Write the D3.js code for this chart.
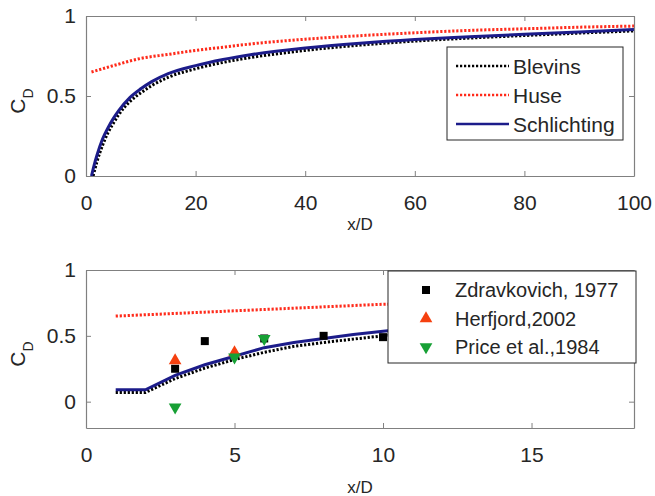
<!DOCTYPE html>
<html>
<head>
<meta charset="utf-8">
<script src="https://cdn.jsdelivr.net/npm/d3@7"></script>
<style>
  body { margin: 0; background: #fff; }
  text { font-family: "Liberation Sans", Arial, sans-serif; fill: #262626; }
</style>
</head>
<body>
<div id="chart"></div>
<script>
"use strict";

/*** Data */
/* Top panel, x/D from 0 to 100 */
const blevinsTopX = [1.3, 2, 3, 4, 5, 6, 8, 10, 12, 15, 20, 25, 30, 40, 50, 60, 70, 80, 90, 100];
const blevinsTopY = [0, 0.09, 0.19, 0.27, 0.33, 0.385, 0.465, 0.52, 0.565, 0.617, 0.67, 0.71, 0.74, 0.785, 0.818, 0.843, 0.862, 0.878, 0.893, 0.907];

const huseTopX = [1, 2, 5, 10, 15, 20, 25, 30, 40, 50, 60, 70, 80, 90, 100];
const huseTopY = [0.65, 0.66, 0.69, 0.735, 0.76, 0.785, 0.805, 0.825, 0.855, 0.877, 0.895, 0.91, 0.92, 0.93, 0.937];

const schlTopX = [1, 1.5, 2, 3, 4, 5, 6, 8, 10, 12, 15, 20, 25, 30, 40, 50, 60, 70, 80, 90, 100];
const schlTopY = [0, 0.07, 0.13, 0.23, 0.30, 0.36, 0.41, 0.49, 0.545, 0.59, 0.64, 0.69, 0.728, 0.758, 0.80, 0.83, 0.853, 0.87, 0.886, 0.90, 0.915];

/* Bottom panel, close-up of x/D < 18 */
const blevinsBotX = [1, 2, 3, 4, 5, 6, 7, 8, 9, 10, 12];
const blevinsBotY = [0.07, 0.07, 0.175, 0.255, 0.32, 0.375, 0.42, 0.45, 0.475, 0.50, 0.55];

const huseBotX = [1, 2, 4, 6, 8, 10, 12];
const huseBotY = [0.65, 0.66, 0.68, 0.70, 0.72, 0.74, 0.75];

const schlBotX = [1, 2, 3, 4, 5, 6, 7, 8, 9, 10, 12];
const schlBotY = [0.09, 0.09, 0.20, 0.28, 0.345, 0.41, 0.45, 0.48, 0.51, 0.535, 0.58];

/* Experiments */
const zdravX = [3, 4, 6, 8, 10];
const zdravY = [0.25, 0.46, 0.48, 0.50, 0.49];
const herfX = [3, 5];
const herfY = [0.32, 0.38];
const priceX = [3, 5, 6];
const priceY = [-0.05, 0.33, 0.47];

/* Ticks */
const topXTicks = [0, 20, 40, 60, 80, 100];
const botXTicks = [0, 5, 10, 15];
const yTicks = [0, 0.5, 1];

const lineNames = ["Blevins", "Huse", "Schlichting"];
const markNames = ["Zdravkovich, 1977", "Herfjord,2002", "Price et al.,1984"];

/*** Styles */
const blevinsStyle = { color: "#000000", dash: "2.2,1.8", width: 3 };
const huseStyle = { color: "#ff2a1a", dash: "2.2,1.8", width: 3 };
const schlStyle = { color: "#1c1c8a", dash: null, width: 3 };
const lineStyles = [blevinsStyle, huseStyle, schlStyle];
const axisGray = "#808080";

const w = 655;
const h = 496;

const svg = d3.select("#chart")
    .append("svg")
    .attr("width", w)
    .attr("height", h);

const zip = (xs, ys) => xs.map((x, i) => [x, ys[i]]);

/*** Panel builder */
const drawPanel = (cfg) => {
    const x = d3.scaleLinear().domain(cfg.xDomain).range([86, 634]);
    const y = d3.scaleLinear().domain(cfg.yDomain).range([cfg.bottom, cfg.top]);

    const g = svg.append("g");

    const clipId = "clip" + cfg.top;
    g.append("clipPath").attr("id", clipId)
        .append("rect")
        .attr("x", 86).attr("y", cfg.top)
        .attr("width", 548).attr("height", cfg.bottom - cfg.top);

    const line = d3.line().x(d => x(d[0])).y(d => y(d[1])).curve(cfg.curve);

    const plot = g.append("g").attr("clip-path", "url(#" + clipId + ")");
    cfg.lines.forEach((l, i) => {
        plot.append("path")
            .datum(zip(l[0], l[1]))
            .attr("d", line)
            .attr("fill", "none")
            .attr("stroke", lineStyles[i].color)
            .attr("stroke-width", lineStyles[i].width)
            .attr("stroke-dasharray", lineStyles[i].dash);
    });

    // markers
    if (cfg.markers) {
        plot.append("g").selectAll("rect").data(zip(zdravX, zdravY)).enter().append("rect")
            .attr("x", d => x(d[0]) - 4).attr("y", d => y(d[1]) - 4)
            .attr("width", 8).attr("height", 8).attr("fill", "#000");
        plot.append("g").selectAll("path").data(zip(herfX, herfY)).enter().append("path")
            .attr("d", d3.symbol().type(d3.symbolTriangle).size(70))
            .attr("transform", d => "translate(" + x(d[0]) + "," + (y(d[1]) + 1) + ")")
            .attr("fill", "#f5400f");
        plot.append("g").selectAll("path").data(zip(priceX, priceY)).enter().append("path")
            .attr("d", d3.symbol().type(d3.symbolTriangle).size(70))
            .attr("transform", d => "translate(" + x(d[0]) + "," + (y(d[1]) - 1) + ") rotate(180)")
            .attr("fill", "#17a035");
    }

    // axes: inward ticks on all four sides
    const styleAxis = (sel) => {
        sel.select(".domain").attr("stroke", axisGray);
        sel.selectAll(".tick line").attr("stroke", axisGray);
        sel.selectAll("text").style("font-size", "21px").attr("fill", "#262626");
    };
    g.append("g").attr("transform", "translate(0," + cfg.bottom + ")")
        .call(d3.axisBottom(x).tickValues(cfg.xTicks).tickSizeInner(-5).tickSizeOuter(0).tickPadding(19))
        .call(styleAxis);
    g.append("g").attr("transform", "translate(0," + cfg.top + ")")
        .call(d3.axisTop(x).tickValues(cfg.xTicks).tickSizeInner(-5).tickSizeOuter(0).tickFormat(""))
        .call(styleAxis);
    g.append("g").attr("transform", "translate(86,0)")
        .call(d3.axisLeft(y).tickValues(yTicks).tickSizeInner(-5).tickSizeOuter(0).tickPadding(10).tickFormat(d3.format("")))
        .call(styleAxis);
    g.append("g").attr("transform", "translate(634,0)")
        .call(d3.axisRight(y).tickValues(yTicks).tickSizeInner(-5).tickSizeOuter(0).tickFormat(""))
        .call(styleAxis);
    g.selectAll(".domain").attr("stroke-width", 1.2);

    // labels
    g.append("text")
        .attr("x", 360).attr("y", cfg.xLabelY)
        .attr("text-anchor", "middle")
        .style("font-size", "17px")
        .text("x/D");
    const yl = g.append("text")
        .attr("transform", "translate(25," + ((cfg.top + cfg.bottom) / 2 + 5) + ") rotate(-90)")
        .attr("text-anchor", "middle")
        .style("font-size", "21px");
    yl.append("tspan").text("C");
    yl.append("tspan").attr("dy", 8).style("font-size", "14px").text("D");

    return { x, y, g };
};

/*** Top panel */
drawPanel({
    xDomain: [0, 100], yDomain: [0, 1], top: 16, bottom: 176, xTicks: topXTicks, xLabelY: 230,
    curve: d3.curveMonotoneX,
    lines: [[blevinsTopX, blevinsTopY], [huseTopX, huseTopY], [schlTopX, schlTopY]]
});

/* Top legend */
const legTop = svg.append("g");
legTop.append("rect")
    .attr("x", 447).attr("y", 47).attr("width", 176).attr("height", 93)
    .attr("fill", "#fff").attr("stroke", "#262626").attr("stroke-width", 1);
lineNames.forEach((name, i) => {
    const cy = 66 + i * 29;
    legTop.append("line")
        .attr("x1", 456).attr("x2", 509).attr("y1", cy).attr("y2", cy)
        .attr("stroke", lineStyles[i].color)
        .attr("stroke-width", lineStyles[i].width - 0.5)
        .attr("stroke-dasharray", lineStyles[i].dash);
    legTop.append("text")
        .attr("x", 513).attr("y", cy + 7.5)
        .style("font-size", "21px")
        .text(name);
});

/*** Bottom panel */
drawPanel({
    xDomain: [0, 18.45], yDomain: [-0.2, 1], top: 270, bottom: 428, xTicks: botXTicks, xLabelY: 493,
    curve: d3.curveLinear,
    lines: [[blevinsBotX, blevinsBotY], [huseBotX, huseBotY], [schlBotX, schlBotY]],
    markers: true
});

/* Bottom legend */
const legBot = svg.append("g");
legBot.append("rect")
    .attr("x", 388).attr("y", 271).attr("width", 248).attr("height", 92)
    .attr("fill", "#fff").attr("stroke", "#262626").attr("stroke-width", 1);
const markColors = ["#000", "#f5400f", "#17a035"];
markNames.forEach((name, i) => {
    const cy = 290 + i * 28.5;
    if (i === 0) {
        legBot.append("rect").attr("x", 422).attr("y", cy - 4).attr("width", 8).attr("height", 8).attr("fill", "#000");
    } else {
        legBot.append("path")
            .attr("d", d3.symbol().type(d3.symbolTriangle).size(70))
            .attr("transform", "translate(426," + cy + ")" + (i === 2 ? " rotate(180)" : ""))
            .attr("fill", markColors[i]);
    }
    legBot.append("text")
        .attr("x", 455).attr("y", cy + 7)
        .style("font-size", "20px")
        .text(name);
});
</script>
</body>
</html>
